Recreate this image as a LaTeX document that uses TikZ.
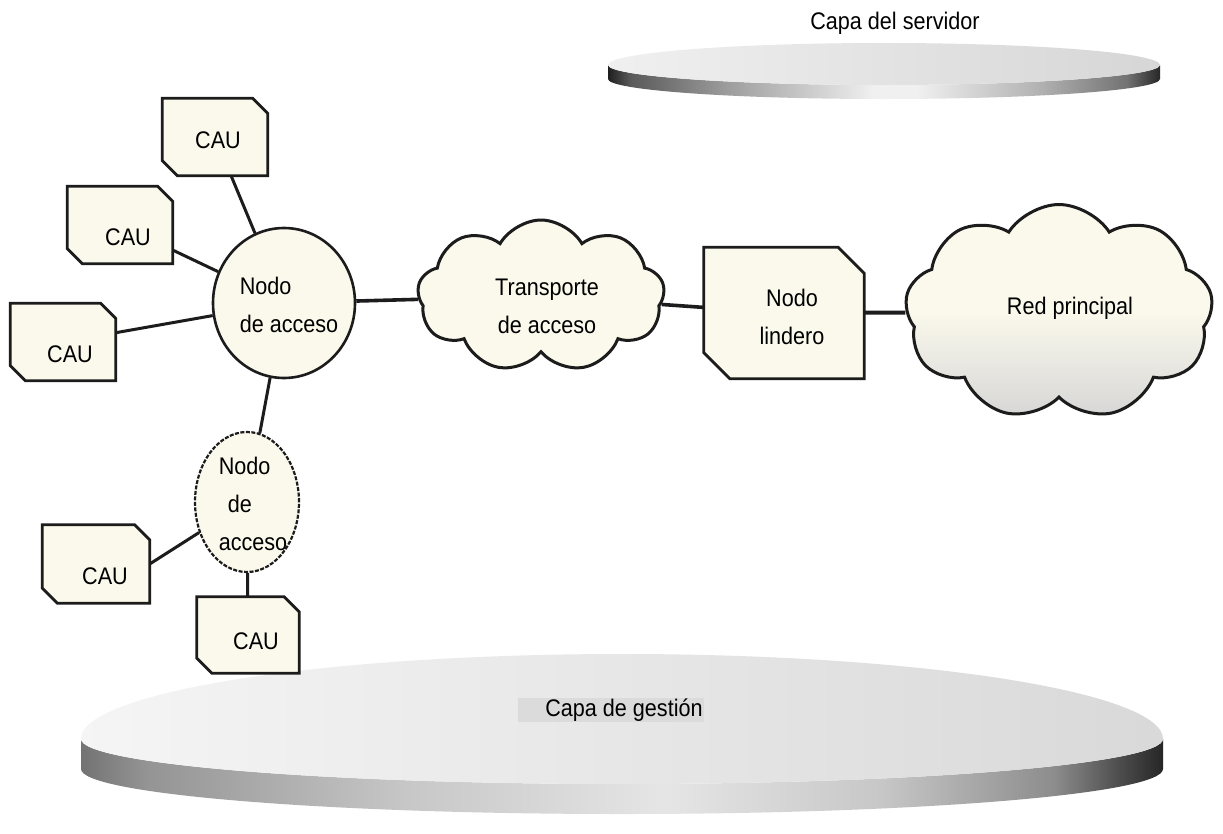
\documentclass[tikz,border=0pt]{standalone}
\usepackage{fontspec}
\setmainfont{Liberation Sans}[FakeStretch=0.9]
\usetikzlibrary{shapes.geometric,shapes.symbols,calc}

\definecolor{cream}{HTML}{FBF9EC}
\definecolor{ink}{HTML}{1C1C1C}

% side walls of the two layer disks (dark rims, light middle)
\pgfdeclarehorizontalshading{rimdark}{100bp}{color(0bp)=(black!88); color(25bp)=(black!88);
  color(27bp)=(black!65); color(36bp)=(black!38); color(49bp)=(black!6); color(53bp)=(black!6);
  color(64bp)=(black!30); color(72bp)=(black!55); color(75bp)=(black!85); color(100bp)=(black!85)}
\pgfdeclarehorizontalshading{rimsoft}{100bp}{color(0bp)=(black!55); color(25bp)=(black!55);
  color(28bp)=(black!42); color(40bp)=(black!22); color(52bp)=(black!10); color(62bp)=(black!22);
  color(70bp)=(black!45); color(73bp)=(black!70); color(75bp)=(black!85); color(100bp)=(black!85)}

\tikzset{
  lbl/.style={font=\fontsize{24}{38}\selectfont, text=black},
  conn/.style={draw=ink, line width=3pt},
  boxline/.style={draw=ink, line width=2.8pt, fill=cream, line join=miter},
  slot/.style={rectangle, inner sep=0pt},
  access/.style={ellipse, draw=ink, line width=2.6pt, fill=cream, inner sep=0pt},
  netcloud/.style={cloud, cloud ignores aspect, draw=ink, line width=3pt, inner sep=0pt},
}

% chamfered outline (top right and bottom left corners cut) round a node
\newcommand{\cutbox}[2]{%
  \path[boxline] (#1.north west) -- ([xshift=-#2]#1.north east) -- ([yshift=-#2]#1.north east)
    -- (#1.south east) -- ([xshift=#2]#1.south west) -- ([yshift=#2]#1.south west) -- cycle;}

% disk: centre (#1,#2), x radius #3, upper/lower y radii #4/#5, thickness #6
\newcommand{\layerdisk}[8]{%
  \path[shading=#7]
    (#1-#3,#2) -- (#1-#3,#2+#6)
    arc[start angle=180, end angle=0, x radius=#3, y radius=#5]
    -- (#1+#3,#2)
    arc[start angle=0, end angle=180, x radius=#3, y radius=#5] -- cycle;
  \path[#8]
    (#1-#3,#2) arc[start angle=180, end angle=360, x radius=#3, y radius=#4]
    arc[start angle=0, end angle=180, x radius=#3, y radius=#5] -- cycle;
}

\begin{document}
\begin{tikzpicture}[x=1pt, y=-1pt]
  \useasboundingbox[fill=white] (0,0) rectangle (1223,833);

  % layers
  \layerdisk{884}{65}{276}{22}{20}{14}{rimdark}{left color=black!6, right color=black!16}
  \layerdisk{622}{739}{541}{85}{45}{30}{rimsoft}{left color=black!4, right color=black!15}

  \node[lbl] (srv) at (895,23) {Capa del servidor};
  \node[lbl, fill=black!14, inner sep=1pt] (gest) at (611,710) {\hspace*{26pt}Capa de gestión};

  % access nodes
  \node[access, minimum width=142pt, minimum height=150pt,
        label={[lbl, align=left, xshift=5pt, yshift=-2pt]center:Nodo\\de acceso}] (na1) at (284,303) {};
  \node[access, line width=2.2pt, dash pattern=on 4pt off 1.5pt, minimum width=104pt, minimum height=140pt,
        label={[lbl, align=left, xshift=6pt, yshift=-2pt]center:Nodo\\\hspace*{9pt}de\\acceso}] (na2) at (247,502) {};

  % customer access units
  \node[slot, minimum width=105pt, minimum height=77pt] (c1) at (215,137) {};
  \node[slot, minimum width=105pt, minimum height=77pt] (c2) at (120,225) {};
  \node[slot, minimum width=105pt, minimum height=77pt] (c3) at (63,342) {};
  \node[slot, minimum width=107pt, minimum height=78pt] (c4) at (96,564) {};
  \node[slot, minimum width=102pt, minimum height=76pt] (c5) at (248,635) {};
  \node[slot, minimum width=160pt, minimum height=131pt] (nl) at (784,313) {};
  \foreach \b in {c1,c2,c3,c4,c5} {\cutbox{\b}{15pt}}
  \cutbox{nl}{26pt}
  \node[lbl] (c1t) at ($(c1)+(3,3)$) {CAU};
  \node[lbl] (c2t) at ($(c2)+(8,12)$) {CAU};
  \node[lbl] (c3t) at ($(c3)+(7,12)$) {CAU};
  \node[lbl] (c4t) at ($(c4)+(9,12)$) {CAU};
  \node[lbl] (c5t) at ($(c5)+(8,6)$) {CAU};
  \node[lbl, align=center] (nlt) at ($(nl)+(8,4)$) {Nodo\\lindero};

  % transport and core networks
  \node[netcloud, cloud puffs=9, cloud puff arc=120, fill=cream,
        minimum width=247pt, minimum height=152pt,
        label={[lbl, align=center, xshift=6pt, yshift=-10pt]center:Transporte\\de acceso}] (tr) at (541,296) {};
  \node[netcloud, cloud puffs=9, cloud puff arc=115,
        top color=cream, bottom color=black!16, middle color=cream,
        minimum width=308pt, minimum height=215pt,
        label={[lbl, xshift=11pt, yshift=4pt]center:Red principal}] (rp) at (1059,312) {};

  % links
  \draw[conn] (c1) -- (na1);
  \draw[conn] (c2) -- (na1);
  \draw[conn] (c3) -- (na1);
  \draw[conn] (na1) -- (na2);
  \draw[conn] (c4.east) -- (na2);
  \draw[conn] (na2) -- (c5);
  \draw[conn, line width=3.6pt] (na1) -- (tr);
  \draw[conn, line width=3.6pt] (tr) -- (nl);
  \draw[conn, line width=4pt] (nl) -- (rp);
\end{tikzpicture}
\end{document}
